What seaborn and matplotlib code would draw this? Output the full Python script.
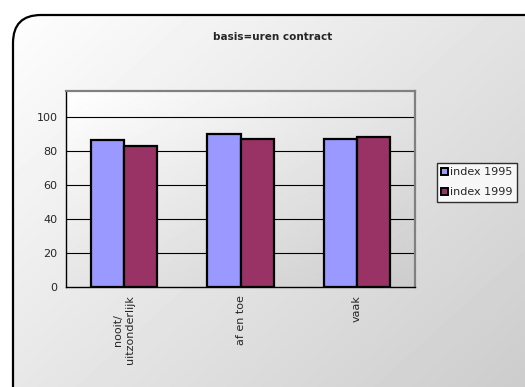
import numpy as np
import pandas as pd
import matplotlib
matplotlib.use("Agg")
import matplotlib.pyplot as plt
import seaborn as sns
from matplotlib.patches import FancyBboxPatch, Patch

categories = ["nooit/\nuitzonderlijk", "af en toe", "vaak"]
index_1995 = [86, 90, 87]
index_1999 = [83, 87, 88]
series = ["index 1995", "index 1999"]
colors = ["#9999FF", "#993366"]

df = pd.DataFrame({
    "cat": categories * 2,
    "value": index_1995 + index_1999,
    "series": [series[0]] * 3 + [series[1]] * 3,
})

sns.set_style("white")
fig = plt.figure(figsize=(5.25, 3.87), dpi=100)
fig.patch.set_facecolor("white")

# background panel with gradient and rounded border
bg = fig.add_axes([0, 0, 1, 1], zorder=-10)
bg.set_xlim(0, 525)
bg.set_ylim(387, 0)
bg.axis("off")
yy, xx = np.mgrid[0:387, 0:525]
grad = (xx / 525 * 0.55 + yy / 387 * 0.45)
grad = 1.0 - 0.2 * grad
img = bg.imshow(grad, cmap="gray", vmin=0, vmax=1, extent=[0, 525, 387, 0], aspect="auto")
frame = FancyBboxPatch((13, 15), 600, 500, boxstyle="round,pad=0,rounding_size=28",
                       facecolor="none", edgecolor="black", linewidth=1.6)
bg.add_patch(frame)
img.set_clip_path(frame)

ax = fig.add_axes([66 / 525, 100 / 387, 349 / 525, 196 / 387])
ax.patch.set_alpha(0)
g2 = np.linspace(0, 1, 200)[None, :] * 0.5 + np.linspace(0, 1, 200)[:, None] * 0.5
ax.imshow(1.0 - 0.2 * g2, cmap="gray", vmin=0, vmax=1, extent=[0, 1, 0, 1],
          transform=ax.transAxes, aspect="auto", zorder=0)

sns.barplot(data=df, x="cat", y="value", hue="series", palette=colors, saturation=1,
            width=0.57, gap=0, edgecolor="black", linewidth=1.6, ax=ax,
            legend=False, zorder=3)

ax.set_ylim(0, 115)
ax.set_xlim(-0.5, 2.5)
ax.set_yticks([0, 20, 40, 60, 80, 100])
for v in [20, 40, 60, 80, 100]:
    ax.axhline(v, color="black", linewidth=0.8, zorder=1)
ax.set_xlabel("")
ax.set_ylabel("")
ax.set_xticks([0, 1, 2])
ax.set_xticklabels(categories, rotation=90, fontsize=8, va="top", ha="center")
ax.set_xticks([-0.5, 0.5, 1.5], minor=True)
ax.tick_params(axis="x", which="major", length=0, pad=6)
ax.tick_params(axis="x", which="minor", length=4, direction="out", width=1)
ax.tick_params(axis="y", length=4, direction="out", width=1, labelsize=8, pad=2)
for s in ["top", "right"]:
    ax.spines[s].set_color("#808080")
    ax.spines[s].set_linewidth(1.6)
ax.spines["left"].set_color("black")
ax.spines["bottom"].set_color("black")
ax.spines["left"].set_linewidth(1)
ax.spines["bottom"].set_linewidth(1)

fig.text(273 / 525, 1 - 37 / 387, "basis=uren contract", ha="center", va="center",
         fontsize=7.5, fontweight="bold")

handles = [Patch(facecolor=c, edgecolor="black", linewidth=1.4) for c in colors]
leg = fig.legend(handles, series, loc="upper left", bbox_to_anchor=(437 / 525, 1 - 163 / 387),
                 fontsize=8, frameon=True, fancybox=False, handlelength=0.6, handleheight=0.6,
                 handletextpad=0.2, borderpad=0.4, labelspacing=0.9, borderaxespad=0)
leg.get_frame().set_edgecolor("black")
leg.get_frame().set_facecolor("white")
leg.get_frame().set_linewidth(1)

fig.savefig("out.png", dpi=100)
